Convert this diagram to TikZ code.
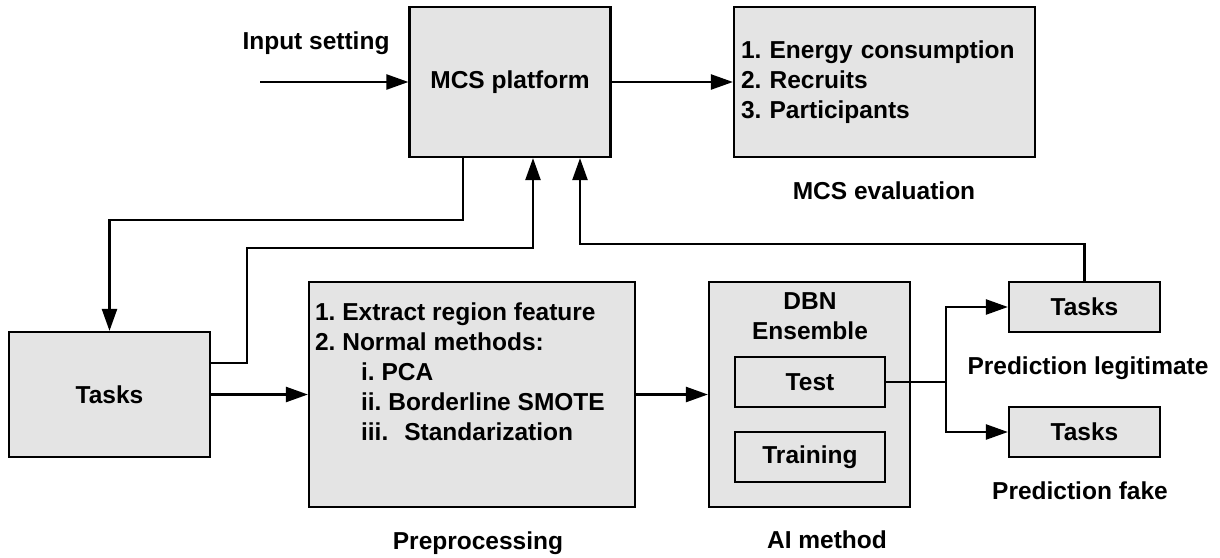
\documentclass[tikz,border=0pt]{standalone}
\usepackage{fontspec}
\setmainfont{Liberation Sans}
\usetikzlibrary{arrows.meta,calc}
\definecolor{boxgray}{RGB}{228,228,228}
\frenchspacing
\begin{document}
\begin{tikzpicture}[x=1pt,y=-1pt,
  every node/.style={font=\bfseries\fontsize{24.5}{30}\selectfont, inner sep=0pt},
  box/.style={draw, line width=2.2pt, fill=boxgray},
  conn/.style={line width=2.4pt},
  arr/.style={conn, -{Triangle[length=22pt,width=15pt]}}]
\useasboundingbox (0,0) rectangle (1220,557);

% --- blocks ---
\node[box, minimum width=201pt, minimum height=150pt] (mcs) at (510,82) {MCS platform};
\node[box, minimum width=301pt, minimum height=150pt, align=left, text width=287pt] (eval) at (884.5,82)
  {1. Energy consumption\\2. Recruits\\3. Participants};

\node[box, minimum width=201pt, minimum height=125pt] (tasks) at (109.5,394.5) {Tasks};

\node[box, minimum width=326pt, minimum height=225pt] (pre) at (472,394.5) {};
\node[anchor=north west, align=left] (pretext) at ([xshift=7pt,yshift=-22pt]pre.north west)
  {1. Extract region feature\\
   2. Normal methods:\\
   \hspace*{46pt}i. PCA\\
   \hspace*{46pt}ii. Borderline SMOTE\\
   \hspace*{46pt}iii.\hspace{16pt}Standarization};

\node[box, minimum width=201pt, minimum height=225pt] (dbn) at (809.5,394.5) {};
\node[anchor=north, align=center] (dbntext) at (810,292) {DBN\\Ensemble};
\node[box, minimum width=150pt, minimum height=50pt] (test) at (810,382) {Test};
\node[box, minimum width=150pt, minimum height=50pt] (train) at (810,457) {Training};

\node[box, minimum width=151pt, minimum height=50pt] (ta) at (1084.5,307) {Tasks};
\node[box, minimum width=151pt, minimum height=50pt] (tb) at (1084.5,432) {Tasks};

% --- captions ---
\node[anchor=base] (lin) at (316,49) {Input setting};
\node[anchor=base] (leval) at (884,199) {MCS evaluation};
\node[anchor=base] (lpre) at (478,549) {Preprocessing};
\node[anchor=base] (lai) at (827,548) {AI method};
\node[anchor=base] (llegit) at (1088,374) {Prediction legitimate};
\node[anchor=base] (lfake) at (1080,499) {Prediction fake};

% --- connectors ---
\coordinate (inp) at (260,82);
\draw[arr] (inp) -- (mcs.west);
\draw[arr] (mcs.east) -- (eval.west);

\draw[arr] ([xshift=-47pt]mcs.south) -- ++(0,62) -| (tasks.north);
\coordinate (b1) at (247,248);
\draw[arr] ([yshift=31.5pt]tasks.east) -| (b1) -| ([xshift=23pt]mcs.south);

\draw[arr] (tasks.east) -- (pre.west);
\draw[arr] (pre.east) -- (dbn.west);

\coordinate (split) at (946,382);
\draw[conn] (test.east) -- (split);
\draw[arr] (split) |- (ta.west);
\draw[arr] (split) |- (tb.west);

\draw[arr] (ta.north) -- ++(0,-37) -| ([xshift=70pt]mcs.south);
\end{tikzpicture}
\end{document}
